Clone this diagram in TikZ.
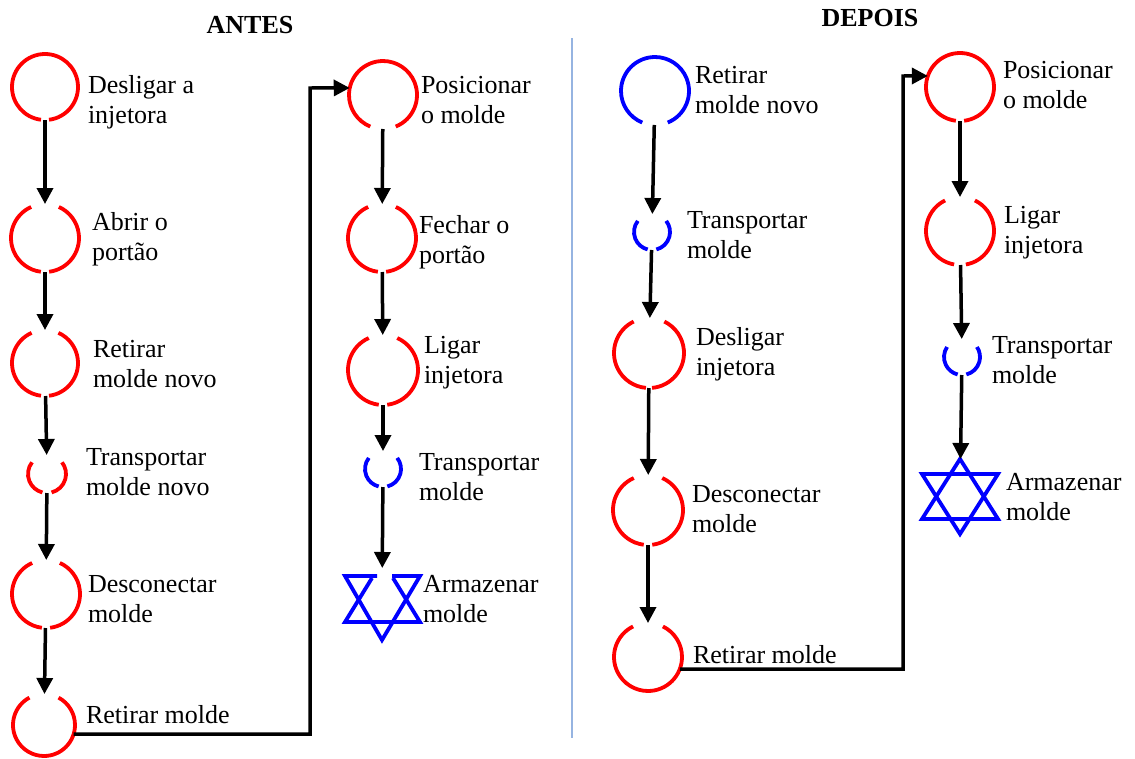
\documentclass[tikz,border=0pt]{standalone}
\usepackage{fontspec}
\setmainfont{Liberation Serif}
\newfontfamily\lserif{Liberation Serif}
\usetikzlibrary{arrows.meta}
\definecolor{sepblue}{RGB}{150,180,225}
\begin{document}
\begin{tikzpicture}[x=1pt, y=-1pt,
    every node/.style={inner sep=0pt, outer sep=0pt},
    op/.style={circle, minimum size=#1},
    txt/.style={anchor=base west, align=left, font=\lserif\fontsize{26}{30}\selectfont},
    ttl/.style={anchor=base, font=\lserif\fontsize{26}{30}\selectfont\bfseries},
    flow/.style={-{Triangle[length=16pt,width=16pt]}, line width=3.5pt},
    opline/.style={line width=3.8pt},
    starline/.style={blue, line width=3.8pt}]
  \useasboundingbox (0,0) rectangle (1135,758);

  % titles and separator
  \node[ttl] (antes) at (250,33) {ANTES};
  \node[ttl] (depois) at (870,26) {DEPOIS};
  \draw[sepblue, line width=1.5pt] (572,38) -- (572,738);

  % ANTES
  \path (45,87) node[op=66pt] (a1) {};
  \path (45,238) node[op=68pt] (a2) {};
  \path (45,363) node[op=66pt] (a3) {};
  \path (47,474) node[op=38pt] (a4) {};
  \path (46,594) node[op=68pt] (a5) {};
  \path (44,725) node[op=62pt] (a6) {};

  \path (383,95) node[op=68pt] (b1) {};
  \path (382,238) node[op=68pt] (b2) {};
  \path (383,370) node[op=70pt] (b3) {};
  \path (383,469) node[op=36pt] (b4) {};
  \path (382,605) node[op=74pt] (b5) {};

  % DEPOIS
  \path (655,91) node[op=68pt] (d1) {};
  \path (652,232) node[op=36pt] (d2) {};
  \path (649,353) node[op=70pt] (d3) {};
  \path (648,510) node[op=70pt] (d4) {};
  \path (648,657) node[op=68pt] (d5) {};

  \path (960,87) node[op=68pt] (e1) {};
  \path (960,231) node[op=68pt] (e2) {};
  \path (962,357) node[op=36pt] (e3) {};
  \path (960,497) node[op=76pt] (e4) {};

  % open circles: node/radius/top gap/bottom gap/colour
  \foreach \n/\r/\t/\b/\c in {
      a1/33/0/7/red, a2/34/24/7/red, a3/33/24/7/red, a4/19/52/14/red,
      a5/34/24/7/red, a6/31/28/0/red,
      b1/34/0/22/red, b2/34/24/7/red, b3/35/24/7/red, b4/18/52/14/blue,
      d1/34/0/22/blue, d2/18/52/14/blue, d3/35/26/5/red, d4/35/24/7/red,
      d5/34/26/0/red,
      e1/34/0/7/red, e2/34/26/10/red, e3/18/56/14/blue}
  {
    \pgfmathtruncatemacro\p{90+\t}
    \pgfmathtruncatemacro\q{270-\b}
    \pgfmathtruncatemacro\u{\b-90}
    \pgfmathtruncatemacro\v{90-\t}
    \draw[opline, \c] (\n.center) ++(\p:\r pt) arc[start angle=\p, end angle=\q, radius=\r pt];
    \draw[opline, \c] (\n.center) ++(\u:\r pt) arc[start angle=\u, end angle=\v, radius=\r pt];
  }

  % storage stars
  \draw[starline] (372,578) -- (345,622) -- (420,622) -- (393,578);
  \draw[starline] (377,576) -- (345,576) -- (382,640) -- (420,576) -- (392,576);
  \draw[starline] (960,459) -- (922,519) -- (998,519) -- cycle;
  \draw[starline] (922,474) -- (998,474) -- (960,534) -- cycle;

  % labels (base = last line)
  \node[txt] (a1t) at (88,123) {Desligar a\\injetora};
  \node[txt] (a2t) at (92,260) {Abrir o\\portão};
  \node[txt] (a3t) at (93,387) {Retirar\\molde novo};
  \node[txt] (a4t) at (86,495) {Transportar\\molde novo};
  \node[txt] (a5t) at (88,622) {Desconectar\\molde};
  \node[txt] (a6t) at (86,723) {Retirar molde};

  \node[txt] (b1t) at (421,123) {Posicionar\\o molde};
  \node[txt] (b2t) at (419,263) {Fechar o\\portão};
  \node[txt] (b3t) at (424,383) {Ligar\\injetora};
  \node[txt] (b4t) at (419,500) {Transportar\\molde};
  \node[txt] (b5t) at (423,622) {Armazenar\\molde};

  \node[txt] (d1t) at (695,113) {Retirar\\molde novo};
  \node[txt] (d2t) at (687,258) {Transportar\\molde};
  \node[txt] (d3t) at (696,375) {Desligar\\injetora};
  \node[txt] (d4t) at (692,532) {Desconectar\\molde};
  \node[txt] (d5t) at (693,663) {Retirar molde};

  \node[txt] (e1t) at (1003,108) {Posicionar\\o molde};
  \node[txt] (e2t) at (1004,253) {Ligar\\injetora};
  \node[txt] (e3t) at (992,383) {Transportar\\molde};
  \node[txt] (e4t) at (1006,520) {Armazenar\\molde};

  % flow
  \draw[flow] (a1) -- (a2);
  \draw[flow] (a2) -- (a3);
  \draw[flow] (a3) -- (a4);
  \draw[flow] (a4) -- (a5);
  \draw[flow] (a5) -- (a6);
  \coordinate (k1) at (310,88);
  \draw[flow] (a6.-17) -| (k1) -- (b1.168);
  \draw[flow] (b1) -- (b2);
  \draw[flow] (b2) -- (b3);
  \draw[flow] (b3) -- (b4);
  \draw[flow] (b4) -- (b5);

  \draw[flow] (d1) -- (d2);
  \draw[flow] (d2) -- (d3);
  \draw[flow] (d3) -- (d4);
  \draw[flow] (d4) -- (d5);
  \coordinate (k2) at (903,76);
  \draw[flow] (d5.-21) -| (k2) -- (e1.161);
  \draw[flow] (e1) -- (e2);
  \draw[flow] (e2) -- (e3);
  \draw[flow] (e3) -- (e4);
\end{tikzpicture}
\end{document}
